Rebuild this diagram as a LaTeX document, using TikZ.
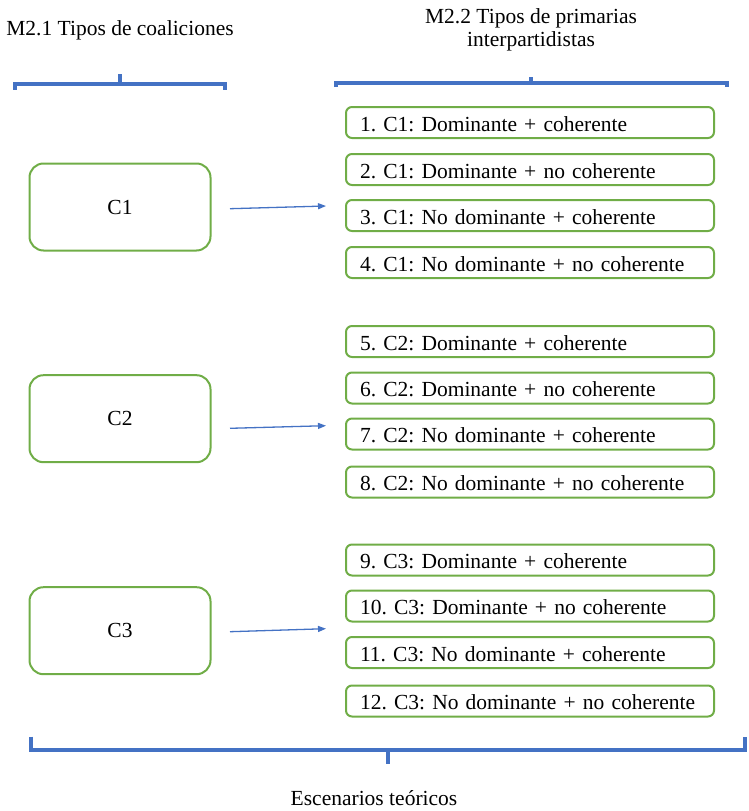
\documentclass[tikz,border=0pt]{standalone}
\usepackage{fontspec}
\setmainfont{Liberation Serif}
\usetikzlibrary{arrows.meta}

\definecolor{verde}{RGB}{112,173,71}
\definecolor{azul}{RGB}{68,114,196}

\begin{document}
\frenchspacing
\begin{tikzpicture}[x=1pt,y=-1pt,font=\fontsize{21.5}{23}\selectfont,
coalicion/.style={draw=verde,line width=2pt,rounded corners=14pt,minimum width=181pt,minimum height=87pt},
primaria/.style={draw=verde,line width=2pt,rounded corners=6pt,anchor=west,text width=340pt,
  inner xsep=14pt,inner ysep=5pt,text height=19pt,text depth=2pt,outer sep=0pt,align=left},
llave/.style={draw=azul,line width=4pt},
flecha/.style={draw=azul,line width=1.3pt,-{Triangle[length=8pt,width=6pt]}}]
\useasboundingbox (0,0) rectangle (748,811);

% titulos
\node (t1) at (120,30) {M2.1 Tipos de coaliciones};
\node[align=center] (t2) at (531,29.5) {M2.2 Tipos de primarias\\interpartidistas};
\node[anchor=base] (t3) at (374,805) {Escenarios te\'oricos};

% llaves
\draw[llave] (14.7,89.5) -- (14.7,84) -- (225,84) -- (225,89.5);
\draw[llave] (119.7,84) -- (119.7,74);
\draw[llave] (336,87) -- (336,82.7) -- (726.7,82.7) -- (726.7,87);
\draw[llave] (531.3,82.7) -- (531.3,76.7);
\draw[llave] (30.7,736.7) -- (30.7,749.7) -- (744.7,749.7) -- (744.7,736.7);
\draw[llave] (388.3,749.7) -- (388.3,763.5);

% coaliciones
\node[coalicion] (c1) at (120,207) {C1};
\node[coalicion] (c2) at (120,418.7) {C2};
\node[coalicion] (c3) at (120,630.7) {C3};

% primarias
\node[primaria] (e1) at (346,122.5) {1. C1: Dominante + coherente};
\node[primaria] (e2) at (346,169.5) {2. C1: Dominante + no coherente};
\node[primaria] (e3) at (346,215.5) {3. C1: No dominante + coherente};
\node[primaria] (e4) at (346,262.5) {4. C1: No dominante + no coherente};
\node[primaria] (e5) at (346,341.5) {5. C2: Dominante + coherente};
\node[primaria] (e6) at (346,388) {6. C2: Dominante + no coherente};
\node[primaria] (e7) at (346,434) {7. C2: No dominante + coherente};
\node[primaria] (e8) at (346,482) {8. C2: No dominante + no coherente};
\node[primaria] (e9) at (346,560) {9. C3: Dominante + coherente};
\node[primaria] (e10) at (346,606) {10. C3: Dominante + no coherente};
\node[primaria] (e11) at (346,652.5) {11. C3: No dominante + coherente};
\node[primaria] (e12) at (346,701) {12. C3: No dominante + no coherente};

% flechas
\coordinate (f1) at (326,206);
\coordinate (f2) at (326,425.7);
\coordinate (f3) at (326,628.7);
\path
([xshift=18.5pt,yshift=-1.7pt]c1.east) edge[flecha] (f1)
([xshift=18.5pt,yshift=-9.6pt]c2.east) edge[flecha] (f2)
([xshift=18.5pt,yshift=-1pt]c3.east) edge[flecha] (f3);
\end{tikzpicture}
\end{document}
